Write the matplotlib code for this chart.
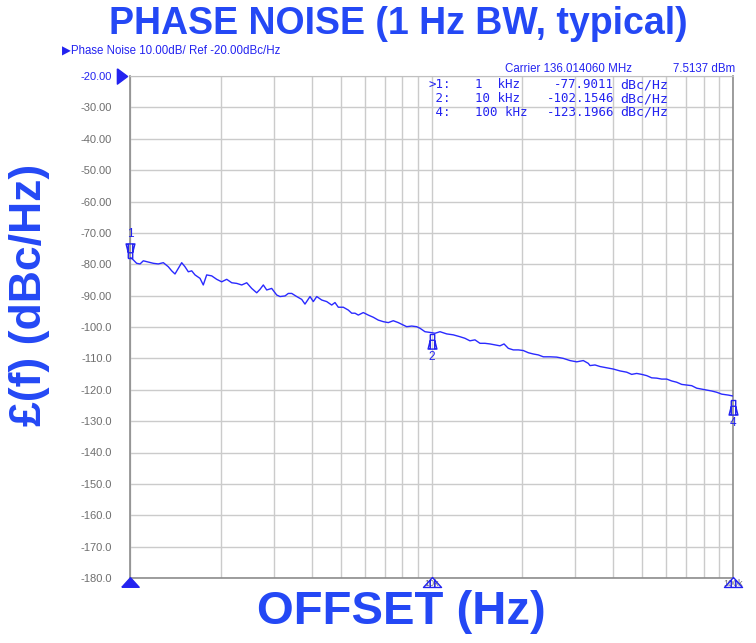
import numpy as np
import matplotlib.pyplot as plt
from matplotlib.path import Path
from matplotlib.ticker import NullFormatter
import matplotlib.transforms as mtransforms

# offset frequency (Hz) and phase noise (dBc/Hz)
freq_hz = [1000, 1013, 1052, 1080, 1107, 1150, 1195, 1241, 1290, 1340, 1375, 1410,
           1446, 1484, 1522, 1561, 1602, 1643, 1707, 1750, 1796, 1866, 1939, 2014,
           2093, 2175, 2259, 2347, 2439, 2533, 2632, 2699, 2768, 2841, 2951, 3066,
           3145, 3267, 3350, 3439, 3573, 3711, 3805, 3954, 4055, 4163, 4324, 4492,
           4667, 4785, 4908, 5099, 5297, 5437, 5576, 5718, 5940, 6171, 6412, 6660,
           6920, 7189, 7468, 7759, 8062, 8273, 8596, 8930, 9160, 9515, 10000, 10270,
           10670, 11230, 11810, 12430, 12910, 13410, 13940, 14480, 15040, 15630,
           16240, 16870, 17400, 17980, 18680, 19410, 20160, 20950, 21760, 22610,
           23490, 24720, 26010, 27360, 28800, 30310, 31880, 33120, 33550, 34860,
           36220, 38120, 40090, 42190, 44400, 46130, 47920, 49790, 51730, 53740,
           55830, 58000, 60270, 62610, 65050, 67590, 70220, 72950, 75790, 78740,
           81810, 84990, 88310, 91740, 96470, 100000]
pn_dbc = [-77.9, -78.1, -79.7, -79.9, -78.9, -79.3, -79.7, -79.9, -79.5, -80.8, -82.1, -83.1,
          -81.3, -79.5, -80.8, -82.4, -82.1, -83.4, -84.5, -86.6, -83.4, -83.7, -84.8, -85.6,
          -84.8, -85.9, -86.1, -86.6, -85.9, -87.7, -89.1, -88.0, -86.6, -88.2, -87.7, -89.8,
          -90.3, -90.1, -89.3, -89.3, -90.3, -91.2, -92.7, -90.3, -91.9, -90.3, -91.4, -91.9,
          -93.0, -92.2, -93.7, -93.7, -94.6, -95.6, -95.6, -96.2, -95.4, -96.2, -96.9, -97.8,
          -98.3, -98.6, -98.0, -98.6, -99.4, -99.9, -99.7, -99.9, -100.4, -101.5, -101.8, -102.0,
          -101.5, -102.2, -102.5, -103.1, -103.6, -104.4, -104.1, -105.2, -105.2, -105.4,
          -105.7, -106.0, -105.4, -106.8, -107.3, -107.3, -107.5, -108.2, -108.6, -108.9,
          -109.5, -109.5, -109.6, -110.0, -110.7, -111.1, -110.7, -111.6, -112.3, -112.1,
          -112.6, -113.0, -113.4, -114.0, -114.4, -115.1, -114.8, -115.1, -115.5, -116.2,
          -116.3, -116.6, -116.6, -117.2, -117.6, -118.3, -118.5, -118.7, -119.5, -119.8,
          -120.1, -120.4, -120.8, -121.4, -121.7, -122.0]

marker_ids = ['1', '2', '4']
marker_freq = [1e3, 1e4, 1e5]
marker_val = [-77.9011, -102.1546, -123.1966]
marker_freq_txt = ['1  kHz', '10 kHz', '100 kHz']
marker_side = ['above', 'below', 'below']

y_ticks = list(range(-180, -19, 10))
x_tick_pos = [1e3, 1e4, 1e5]
x_tick_txt = ['', '10k', '100k']

BLUE_T = '#2448f5'
BLUE = '#2323f0'
GRAY = '#6e6e6e'

fig = plt.figure(figsize=(7.56, 6.43), dpi=100)
ax = fig.add_axes([130 / 756, 1 - 578 / 643, 603 / 756, 502 / 643])

ax.plot(freq_hz, pn_dbc, color='#2a2aff', lw=1.0, zorder=3)

ax.set_xscale('log')
ax.set_xlim(1e3, 1e5)
ax.set_ylim(-180, -20)
ax.set_yticks(y_ticks)
ax.set_yticklabels([f"{v:.2f}" if v > -100 else f"{v:.1f}" for v in y_ticks],
                   fontsize=8, color=GRAY, family='Liberation Sans')
ax.get_yticklabels()[-1].set_color(BLUE)
ax.set_xticks(x_tick_pos)
ax.set_xticklabels(x_tick_txt, fontsize=6.5, color=GRAY, family='Liberation Sans')
ax.xaxis.set_minor_formatter(NullFormatter())
ax.tick_params(axis='y', which='both', length=0, pad=13)
ax.tick_params(axis='x', which='both', length=0, pad=1)
ax.grid(True, which='both', color='#cbcbcb', lw=1)
for s in ['left', 'bottom', 'right']:
    ax.spines[s].set_color('#8c8c8c')
    ax.spines[s].set_linewidth(1.2)
ax.spines['top'].set_color('#c0c0c0')

# marker symbols on the trace
below = Path([(-0.5, 0), (0.5, 0), (0.5, -1.3), (1, -3.3), (-1, -3.3), (-0.5, -1.3), (-0.5, 0),
              (-0.5, -1.3), (0.5, -1.3), (0.5, -1.3), (0.5, -3.3), (-0.5, -3.3), (-0.5, -1.3)],
             [Path.MOVETO] + [Path.LINETO] * 6 + [Path.MOVETO, Path.LINETO,
                                                  Path.MOVETO, Path.LINETO,
                                                  Path.MOVETO, Path.LINETO])
above = Path(below.vertices * np.array([1, -1]), below.codes)
for mid, f, v, side in zip(marker_ids, marker_freq, marker_val, marker_side):
    mk = above if side == 'above' else below
    ax.plot([f], [v], marker=mk, ms=21, mfc='none', mec=BLUE, mew=1.0,
            ls='none', clip_on=False, zorder=5)
    dy = 17 if side == 'above' else -17
    ax.annotate(mid, xy=(f, v), xytext=(0, dy), textcoords='offset points',
                ha='center', va='center', fontsize=8.5, color=BLUE,
                family='Liberation Sans', annotation_clip=False)

# reference level triangle
trans_y = mtransforms.blended_transform_factory(ax.transAxes, ax.transData)
ref_tri = Path([(-0.67, 1), (0.67, 0), (-0.67, -1), (-0.67, 1)])
ax.plot([-0.013], [-20], marker=ref_tri, ms=11, color=BLUE, transform=trans_y,
        clip_on=False, zorder=5)

# triangles under the x axis
trans_x = mtransforms.blended_transform_factory(ax.transData, ax.transAxes)
tri_fill = Path([(-1, -0.55), (1, -0.55), (0, 0.55), (-1, -0.55)])
tri_open = Path([(-1, -0.55), (1, -0.55), (0, 0.55), (-1, -0.55),
                 (-0.25, -0.55), (-0.25, 0.28), (0.25, -0.55), (0.25, 0.28)],
                [Path.MOVETO, Path.LINETO, Path.LINETO, Path.CLOSEPOLY,
                 Path.MOVETO, Path.LINETO, Path.MOVETO, Path.LINETO])
ax.plot([1e3], [-0.007], marker=tri_fill, ms=12.5, color=BLUE, transform=trans_x,
        clip_on=False, zorder=5)
ax.plot([1e4, 1e5], [-0.007, -0.007], marker=tri_open, ms=13, mfc='none', mec=BLUE,
        mew=1.0, ls='none', transform=trans_x, clip_on=False, zorder=5)

# marker readout table
for i, (mid, ft, v) in enumerate(zip(marker_ids, marker_freq_txt, marker_val)):
    y = 1 - (85 + i * 13.5) / 643
    head = ('>' if i == 0 else ' ') + mid + ':'
    fig.text(451 / 756, y, head, ha='right', va='center', fontsize=9,
             family='DejaVu Sans Mono', color=BLUE)
    fig.text(475 / 756, y, ft, ha='left', va='center', fontsize=9,
             family='DejaVu Sans Mono', color=BLUE)
    fig.text(614 / 756, y, f"{v:.4f}", ha='right', va='center', fontsize=9,
             family='DejaVu Sans Mono', color=BLUE)
    fig.text(620 / 756, y, 'dBc/Hz', ha='left', va='center', fontsize=9.5,
             family='DejaVu Sans Mono', color=BLUE)

fig.text(505 / 756, 1 - 69 / 643, 'Carrier 136.014060 MHz', ha='left', va='center',
         fontsize=8.3, family='Liberation Sans', color=BLUE)
fig.text(735 / 756, 1 - 69 / 643, '7.5137 dBm', ha='right', va='center',
         fontsize=8.3, family='Liberation Sans', color=BLUE)
fig.text(62 / 756, 1 - 51 / 643, '\u25b6Phase Noise 10.00dB/ Ref -20.00dBc/Hz', ha='left',
         va='center', fontsize=8.3, family=['Liberation Sans', 'DejaVu Sans'], color=BLUE)

fig.text(398 / 756, 1 - 24 / 643, 'PHASE NOISE (1 Hz BW, typical)', ha='center', va='center',
         fontsize=27, fontweight='bold', family='Liberation Sans', color=BLUE_T)
fig.text(401 / 756, 1 - 612 / 643, 'OFFSET (Hz)', ha='center', va='center',
         fontsize=34, fontweight='bold', family='Liberation Sans', color=BLUE_T)
fig.text(30 / 756, 1 - 295 / 643, '\u00a3(f) (dBc/Hz)', ha='center', va='center', rotation=90,
         fontsize=32, fontweight='bold', family='Liberation Sans', color=BLUE_T)

fig.savefig('out.png', dpi=100)
